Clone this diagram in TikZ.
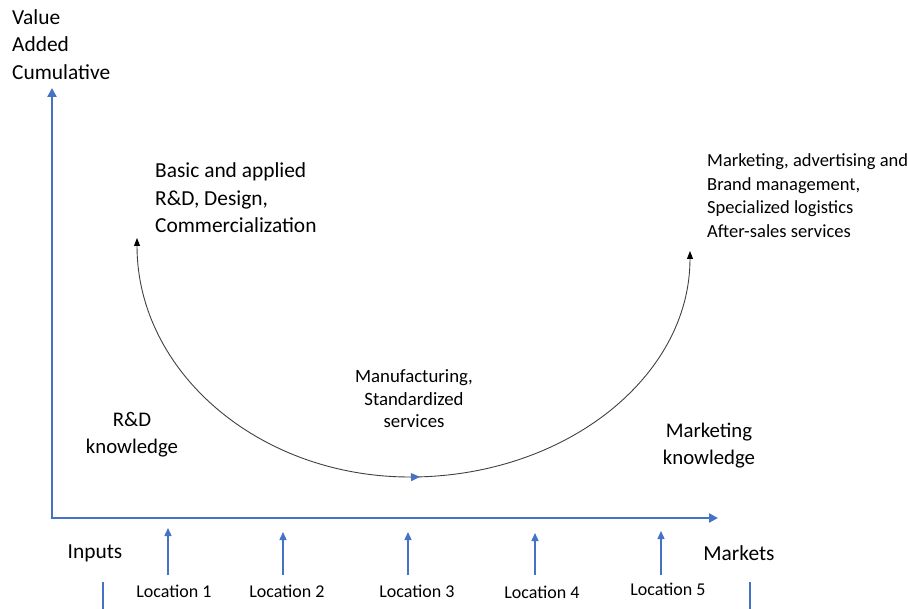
\documentclass[tikz,border=0pt]{standalone}
\usepackage{fontspec}
\setmainfont{Carlito}
\usetikzlibrary{arrows.meta,decorations.markings}
\definecolor{axisblue}{RGB}{68,114,196}
\definecolor{curvegray}{RGB}{64,64,64}
\tikzset{
  axis/.style={draw=axisblue,line width=2.6pt,-{Triangle[length=9pt,width=9pt]}},
  locarrow/.style={draw=axisblue,line width=1.3pt,-{Triangle[length=8pt,width=7pt]}},
  tick/.style={draw=axisblue,line width=1.3pt},
  big/.style={inner sep=0pt,align=left,font=\fontsize{21.4}{27.5}\selectfont},
  small/.style={inner sep=0pt,align=left,font=\fontsize{18.5}{23.5}\selectfont},
  mid/.style={inner sep=0pt,align=center,font=\fontsize{18.8}{22.5}\selectfont},
  know/.style={inner sep=0pt,align=center,font=\fontsize{20.8}{26.5}\selectfont},
  loc/.style={inner sep=0pt,font=\fontsize{18}{20}\selectfont},
}
\begin{document}
\begin{tikzpicture}[x=1pt,y=-1pt]
\path[use as bounding box] (0,0) rectangle (908,609);
% axes
\coordinate (origin) at (52,518);
\coordinate (ytop) at (52,88);
\coordinate (xend) at (718,518);
\draw[axis] (52,519.3) -- (ytop);
\draw[axis] (50.7,518) -- (xend);
% labels
\node[big,anchor=west] (yl) at (12,44.5) {Value\\Added\\Cumulative};
\node[big,anchor=west] (basic) at (155,198) {Basic and applied\\R\&D, Design,\\Commercialization};
\node[small,anchor=west] (mkt) at (707,195.5) {Marketing, advertising and\\Brand management,\\Specialized logistics\\After-sales services};
\node[mid] (manu) at (414,399) {Manufacturing,\\Standardized\\services};
\node[know] (rdk) at (132,434.5) {R\&D\\knowledge};
\node[know] (mkk) at (709,445.5) {Marketing\\knowledge};
\node[big] (inputs) at (95,553) {Inputs};
\node[big] (markets) at (739,553) {Markets};
% smile curve
\coordinate (cl) at (137,238);
\coordinate (cb) at (410,477);
\coordinate (cr) at (690,251);
\draw[curvegray,line width=0.9pt,{Triangle[length=8pt,width=6pt,black]}-{Triangle[length=8pt,width=6pt,black]},
  postaction={decorate},
  decoration={markings,mark=at position 0.515 with {\arrow[axisblue]{Triangle[length=9pt,width=8pt]}}}]
  (cl) .. controls (137,372) and (259,477) .. (cb) .. controls (565,477) and (690,377) .. (cr);
% locations
\foreach \i/\x/\lx/\ly/\top in {1/168/174/591/528,2/283/287/591/532,3/408/417/591/532,4/535/542/592/533,5/661/668/589/531}{
  \coordinate (lb\i) at (\x,575);
  \coordinate (lt\i) at (\x,\top);
  \draw[locarrow] (lb\i) -- (lt\i);
  \node[loc] (loc\i) at (\lx,\ly) {Location \i};
}
% short ticks
\coordinate (ta) at (103,582);
\coordinate (tb) at (103,609);
\coordinate (tc) at (750,582);
\coordinate (td) at (750,609);
\draw[tick] (ta) -- (tb);
\draw[tick] (tc) -- (td);
\end{tikzpicture}
\end{document}
